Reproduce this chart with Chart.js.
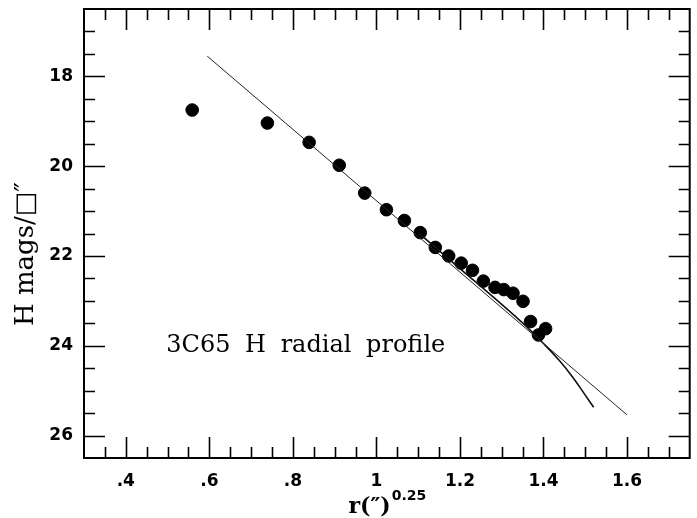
<!DOCTYPE html>
<html>
<head>
<meta charset="utf-8">
<script src="https://cdn.jsdelivr.net/npm/chart.js@4.4.1/dist/chart.umd.min.js"></script>
<style>
  html, body { margin: 0; padding: 0; background: #fff; }
</style>
</head>
<body>
<canvas id="profile-chart" width="697" height="518"></canvas>
<script>
const rQuarter = [0.559, 0.739, 0.839, 0.911, 0.972, 1.024, 1.067, 1.105, 1.141, 1.173,
                  1.203, 1.230, 1.256, 1.284, 1.305, 1.327, 1.351, 1.369, 1.388, 1.405];
const hMag = [18.75, 19.04, 19.47, 19.98, 20.60, 20.97, 21.21, 21.48, 21.81, 22.00,
              22.16, 22.32, 22.56, 22.70, 22.75, 22.83, 23.01, 23.46, 23.76, 23.62];

// r^1/4 law fit (straight line)
const fitR = [0.595, 1.6];
const fitH = [17.55, 25.54];

// model curve that bends away at large radius
const modelR = [1.10, 1.20, 1.30, 1.36, 1.40, 1.44, 1.47, 1.50, 1.52];
const modelH = [21.48, 22.28, 23.08, 23.58, 23.95, 24.35, 24.70, 25.10, 25.37];

const xTicks = [0.4, 0.6, 0.8, 1.0, 1.2, 1.4, 1.6];
const yTicks = [18, 20, 22, 24, 26];
const labelText = '3C65 H radial profile';
const yTitle = 'H mags/\u25A1\u2033';
const xTitle = 'r(\u2033)';
const xTitleSup = '0.25';

const toXY = (xs, ys) => xs.map((x, i) => ({ x: x, y: ys[i] }));

// frame, inward ticks on all four sides, titles and the text label
const framePlugin = {
  id: 'frame',
  afterDraw(chart) {
    const ctx = chart.ctx;
    const a = chart.chartArea;
    const xs = chart.scales.x, ys = chart.scales.y;
    ctx.save();
    ctx.strokeStyle = '#000';
    ctx.lineWidth = 2;
    ctx.strokeRect(a.left, a.top, a.right - a.left, a.bottom - a.top);

    ctx.lineWidth = 1.6;
    ctx.beginPath();
    for (let i = 7; i <= 34; i++) {
      const v = i * 0.05;
      const major = i % 4 === 0;
      const len = major ? 21 : 11;
      const px = Math.round(xs.getPixelForValue(v)) + 0.5;
      ctx.moveTo(px, a.bottom); ctx.lineTo(px, a.bottom - len);
      ctx.moveTo(px, a.top); ctx.lineTo(px, a.top + len);
    }
    for (let i = 34; i <= 52; i++) {
      const v = i * 0.5;
      const major = i % 4 === 0;
      const len = major ? 21 : 11;
      const py = Math.round(ys.getPixelForValue(v)) + 0.5;
      ctx.moveTo(a.left, py); ctx.lineTo(a.left + len, py);
      ctx.moveTo(a.right, py); ctx.lineTo(a.right - len, py);
    }
    ctx.stroke();

    ctx.fillStyle = '#000';
    // text label inside the plot
    ctx.font = '24px "DejaVu Serif"';
    ctx.textBaseline = 'middle';
    ctx.textAlign = 'left';
    if ('wordSpacing' in ctx) ctx.wordSpacing = '7px';
    ctx.fillText(labelText, xs.getPixelForValue(0.497), ys.getPixelForValue(24.0));
    if ('wordSpacing' in ctx) ctx.wordSpacing = '0px';

    // y title
    ctx.save();
    ctx.translate(26, 254);
    ctx.rotate(-Math.PI / 2);
    ctx.textAlign = 'center';
    ctx.font = '26px "DejaVu Serif"';
    ctx.fillText(yTitle, 0, 0);
    ctx.restore();

    // x title with superscript
    ctx.textBaseline = 'alphabetic';
    ctx.font = 'bold 22px "DejaVu Serif"';
    const w1 = ctx.measureText(xTitle).width;
    ctx.font = 'bold 14px "DejaVu Sans"';
    const w2 = ctx.measureText(xTitleSup).width;
    const x0 = (a.left + a.right) / 2 - (w1 + w2) / 2;
    ctx.font = 'bold 22px "DejaVu Serif"';
    ctx.fillText(xTitle, x0, 513);
    ctx.font = 'bold 14px "DejaVu Sans"';
    ctx.fillText(xTitleSup, x0 + w1 + 1, 500);
    ctx.restore();
  }
};

const ctx = document.getElementById('profile-chart').getContext('2d');
new Chart(ctx, {
  type: 'scatter',
  data: {
    datasets: [
      {
        label: 'fit',
        data: toXY(fitR, fitH),
        showLine: true,
        borderColor: '#222',
        borderWidth: 1,
        pointRadius: 0
      },
      {
        label: 'model',
        data: toXY(modelR, modelH),
        showLine: true,
        borderColor: '#111',
        borderWidth: 1.6,
        tension: 0.4,
        pointRadius: 0
      },
      {
        label: 'H profile',
        data: toXY(rQuarter, hMag),
        backgroundColor: '#000',
        borderColor: '#000',
        pointRadius: 6.3,
        pointHoverRadius: 6.3
      }
    ]
  },
  options: {
    responsive: false,
    animation: false,
    layout: { padding: { left: 0, right: 6, top: 9, bottom: 0 } },
    plugins: {
      legend: { display: false },
      tooltip: { enabled: false }
    },
    scales: {
      x: {
        type: 'linear',
        min: 0.3,
        max: 1.75,
        grid: { display: false, drawTicks: false },
        border: { display: false },
        afterBuildTicks: s => { s.ticks = xTicks.map(v => ({ value: v })); },
        afterFit: s => { s.height = 60; s.paddingLeft = 0; s.paddingRight = 0; },
        ticks: {
          color: '#000',
          padding: 13,
          maxRotation: 0,
          font: { family: 'DejaVu Sans', weight: 'bold', size: 17 },
          callback: v => {
            const s = String(Math.round(v * 10) / 10);
            return s.startsWith('0.') ? s.slice(1) : s;
          }
        }
      },
      y: {
        type: 'linear',
        reverse: true,
        min: 16.5,
        max: 26.5,
        grid: { display: false, drawTicks: false },
        border: { display: false },
        afterBuildTicks: s => { s.ticks = yTicks.map(v => ({ value: v })); },
        afterFit: s => { s.width = 84; s.paddingTop = 0; s.paddingBottom = 0; },
        ticks: {
          color: '#000',
          padding: 11,
          font: { family: 'DejaVu Sans', weight: 'bold', size: 17 }
        }
      }
    }
  },
  plugins: [framePlugin]
});
</script>
</body>
</html>
